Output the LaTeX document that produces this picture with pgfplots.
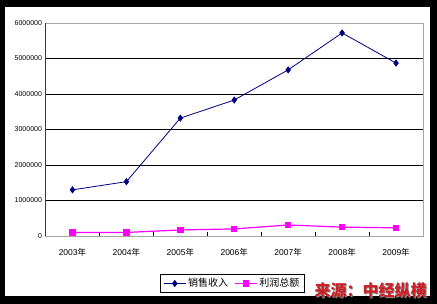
\documentclass[border=0pt]{standalone}
\usepackage{pgfplots}
\pgfplotsset{compat=1.18}
\usepackage{fontspec}
\setmainfont{Liberation Sans}
\newfontfamily\cjk{Noto Sans CJK SC}
\definecolor{sales}{RGB}{0,0,128}
\definecolor{profit}{RGB}{255,0,255}
\definecolor{wmred}{RGB}{205,32,38}

\begin{document}
\begin{tikzpicture}[x=1pt,y=1pt]
% black frame round the white chart area
\fill[black] (0,0) rectangle (437,304);
\fill[white] (5,8) rectangle (430,297);
\begin{axis}[
	at={(45.5pt,68pt)}, anchor=south west,
	scale only axis, width=377.5pt, height=213pt,
	xmin=-0.5, xmax=6.5, ymin=0, ymax=6000000,
	% tick marks between the categories, names under their centres
	xtick={-0.5,0.5,...,6.5},
	xticklabels={},
	extra x ticks={0,...,6},
	extra x tick labels={{2003{\cjk 年}},{2004{\cjk 年}},{2005{\cjk 年}},{2006{\cjk 年}},{2007{\cjk 年}},{2008{\cjk 年}},{2009{\cjk 年}}},
	extra x tick style={major tick length=0pt, tick style={draw=none}},
	ytick={1000000,2000000,3000000,4000000,5000000},
	yticklabels={1000000,2000000,3000000,4000000,5000000},
	extra y ticks={0,6000000},
	extra y tick labels={0,6000000},
	extra y tick style={grid=none},
	ytick style={draw=none},
	scaled y ticks=false,
	ymajorgrids,
	major grid style={black, line width=0.8pt},
	tick pos=left,
	major tick length=4pt,
	xtick style={black, line width=0.8pt},
	axis line style={draw=gray!70, line width=0.8pt},
	/pgf/number format/assume math mode=true,
	yticklabel style={font=\fontsize{7}{8}\selectfont},
	xticklabel style={font=\fontsize{8.5}{10}\selectfont, yshift=-9pt},
	legend style={at={(0.495,-0.223)}, anchor=center, draw=black, line width=0.6pt,
		font=\cjk\fontsize{10}{12}\selectfont, legend columns=2,
		/tikz/every even column/.append style={column sep=4pt}},
	legend image code/.code={
		\draw[mark repeat=2,mark phase=2] plot coordinates {(0pt,0pt)(11pt,0pt)(22pt,0pt)};},
]
\addplot[color=sales, line width=0.8pt, mark=diamond*, mark size=3pt,
	mark options={fill=sales, draw=sales}]
	coordinates {(0,1300000) (1,1530000) (2,3320000) (3,3830000) (4,4680000) (5,5720000) (6,4870000)};
\addlegendentry{销售收入}
\addplot[color=profit, line width=1.2pt, mark=square*, mark size=2.6pt,
	mark options={fill=profit, draw=profit}]
	coordinates {(0,100000) (1,100000) (2,170000) (3,200000) (4,310000) (5,250000) (6,230000)};
\addlegendentry{利润总额}
\draw[black, line width=0.8pt] (rel axis cs:0,1) -- (rel axis cs:0,0) -- (rel axis cs:1,0);
\end{axis}
\node[font=\cjk\bfseries\fontsize{16}{16}\selectfont, text=black!45] at (371.5pt,12.5pt) {来源：中经纵横};
\node[font=\cjk\bfseries\fontsize{16}{16}\selectfont, text=wmred] at (370.5pt,13.5pt) {来源：中经纵横};
\end{tikzpicture}
\end{document}
